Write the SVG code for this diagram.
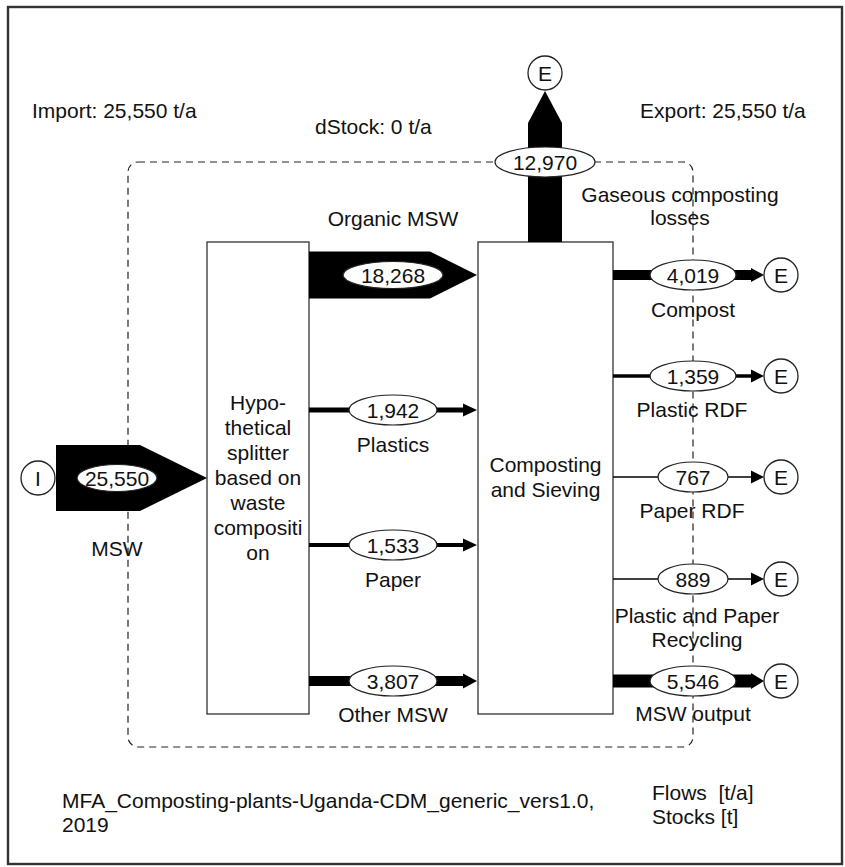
<svg xmlns="http://www.w3.org/2000/svg" width="845" height="867" viewBox="0 0 845 867">
<style>
text{font-family:"Liberation Sans",Arial,sans-serif;font-size:21px;fill:#111}
.m{text-anchor:middle}
.box{fill:#fff;stroke:#333;stroke-width:1.3}
.circ{fill:#fff;stroke:#222;stroke-width:1.3}
.lab{fill:#fff;stroke:#222;stroke-width:1.2}
.fl{fill:#000}
.ln{stroke:#000;fill:none}
.bnd{fill:none;stroke:#222;stroke-width:1.2;stroke-dasharray:7 5}
</style>
<rect x="8" y="7" width="834" height="857" fill="#fff" stroke="#333" stroke-width="2.4"/>
<rect class="bnd" x="128" y="162" width="565" height="585" rx="10"/>
<text x="32" y="118">Import: 25,550 t/a</text>
<text x="315" y="134">dStock: 0 t/a</text>
<text x="640" y="118">Export: 25,550 t/a</text>
<g id="splitter">
<rect class="box" x="207" y="242" width="102" height="472"/>
<text class="m" x="258" y="410">Hypo-</text>
<text class="m" x="258" y="435">thetical</text>
<text class="m" x="258" y="460">splitter</text>
<text class="m" x="258" y="485">based on</text>
<text class="m" x="258" y="510">waste</text>
<text class="m" x="258" y="535">compositi</text>
<text class="m" x="258" y="560">on</text>
</g>
<g id="composting">
<rect class="box" x="478" y="242" width="135" height="472"/>
<text class="m" x="545.5" y="472">Composting</text>
<text class="m" x="545.5" y="497">and Sieving</text>
</g>
<g id="import-I">
<circle class="circ" cx="38" cy="478" r="17"/>
<text class="m" x="38" y="486">I</text>
</g>
<g id="export-gas">
<circle class="circ" cx="545" cy="73" r="17"/>
<text class="m" x="545" y="81">E</text>
</g>
<g id="export-compost"><circle class="circ" cx="781" cy="275" r="17"/><text class="m" x="781" y="283">E</text></g>
<g id="export-prdf"><circle class="circ" cx="781" cy="376" r="17"/><text class="m" x="781" y="384">E</text></g>
<g id="export-pardf"><circle class="circ" cx="781" cy="477" r="17"/><text class="m" x="781" y="485">E</text></g>
<g id="export-recyc"><circle class="circ" cx="781" cy="579" r="17"/><text class="m" x="781" y="587">E</text></g>
<g id="export-msw"><circle class="circ" cx="781" cy="681" r="17"/><text class="m" x="781" y="689">E</text></g>
<g id="connectors">
<g id="f-msw-in">
<polygon class="fl" points="56,445 140,445 207,478 140,511 56,511"/>
<ellipse class="lab" cx="117" cy="478" rx="40" ry="13.5"/>
<text class="m" x="117" y="486">25,550</text>
<text class="m" x="117" y="556">MSW</text>
</g>
<g id="f-organic">
<polygon class="fl" points="309,251.5 430,251.5 477,275 430,298.5 309,298.5"/>
<ellipse class="lab" cx="393" cy="275" rx="50" ry="13.5"/>
<text class="m" x="393" y="283">18,268</text>
<text class="m" x="393" y="226">Organic MSW</text>
</g>
<g id="f-gas">
<polygon class="fl" points="528,242 528,123 545,91 562,123 562,242"/>
<ellipse class="lab" cx="545" cy="162" rx="50" ry="15"/>
<text class="m" x="545" y="170">12,970</text>
<text class="m" x="680" y="202">Gaseous composting</text>
<text class="m" x="680" y="225">losses</text>
</g>
<g id="f-plastics">
<line class="ln" x1="309" y1="410" x2="464" y2="410" stroke-width="5"/>
<polygon class="fl" points="463,403.5 477,410 463,416.5"/>
<ellipse class="lab" cx="393" cy="410" rx="44" ry="15"/>
<text class="m" x="393" y="418">1,942</text>
<text class="m" x="393" y="452">Plastics</text>
</g>
<g id="f-paper">
<line class="ln" x1="309" y1="545" x2="464" y2="545" stroke-width="4"/>
<polygon class="fl" points="463,538.5 477,545 463,551.5"/>
<ellipse class="lab" cx="393" cy="545" rx="44" ry="15"/>
<text class="m" x="393" y="553">1,533</text>
<text class="m" x="393" y="587">Paper</text>
</g>
<g id="f-other">
<line class="ln" x1="309" y1="681" x2="464" y2="681" stroke-width="10"/>
<polygon class="fl" points="463,673.5 477,681 463,688.5"/>
<ellipse class="lab" cx="393" cy="681" rx="44" ry="15"/>
<text class="m" x="393" y="689">3,807</text>
<text class="m" x="393" y="722">Other MSW</text>
</g>
<g id="f-compost">
<line class="ln" x1="613" y1="275" x2="752" y2="275" stroke-width="10"/>
<polygon class="fl" points="751,268 764,275 751,282"/>
<ellipse class="lab" cx="693" cy="275" rx="43" ry="15"/>
<text class="m" x="693" y="283">4,019</text>
<text class="m" x="693" y="317">Compost</text>
</g>
<g id="f-prdf">
<line class="ln" x1="613" y1="376" x2="752" y2="376" stroke-width="3.5"/>
<polygon class="fl" points="751,369.5 764,376 751,382.5"/>
<ellipse class="lab" cx="693" cy="376" rx="43" ry="15"/>
<text class="m" x="693" y="384">1,359</text>
<text class="m" x="692" y="417">Plastic RDF</text>
</g>
<g id="f-pardf">
<line class="ln" x1="613" y1="477" x2="752" y2="477" stroke-width="1.5"/>
<polygon class="fl" points="751,470.5 764,477 751,483.5"/>
<ellipse class="lab" cx="693" cy="477" rx="35" ry="15"/>
<text class="m" x="693" y="485">767</text>
<text class="m" x="692" y="518">Paper RDF</text>
</g>
<g id="f-recyc">
<line class="ln" x1="613" y1="579" x2="752" y2="579" stroke-width="1.5"/>
<polygon class="fl" points="751,572.5 764,579 751,585.5"/>
<ellipse class="lab" cx="693" cy="579" rx="35" ry="15"/>
<text class="m" x="693" y="587">889</text>
<text class="m" x="697" y="623">Plastic and Paper</text>
<text class="m" x="697" y="647">Recycling</text>
</g>
<g id="f-mswout">
<line class="ln" x1="613" y1="681" x2="752" y2="681" stroke-width="13"/>
<polygon class="fl" points="751,673 764,681 751,689"/>
<ellipse class="lab" cx="693" cy="681" rx="43" ry="15"/>
<text class="m" x="693" y="689">5,546</text>
<text class="m" x="693" y="721">MSW output</text>
</g>
</g>
<text x="62" y="808">MFA_Composting-plants-Uganda-CDM_generic_vers1.0,</text>
<text x="62" y="832">2019</text>
<text x="652" y="800">Flows&#160; [t/a]</text>
<text x="652" y="824">Stocks [t]</text>
</svg>
